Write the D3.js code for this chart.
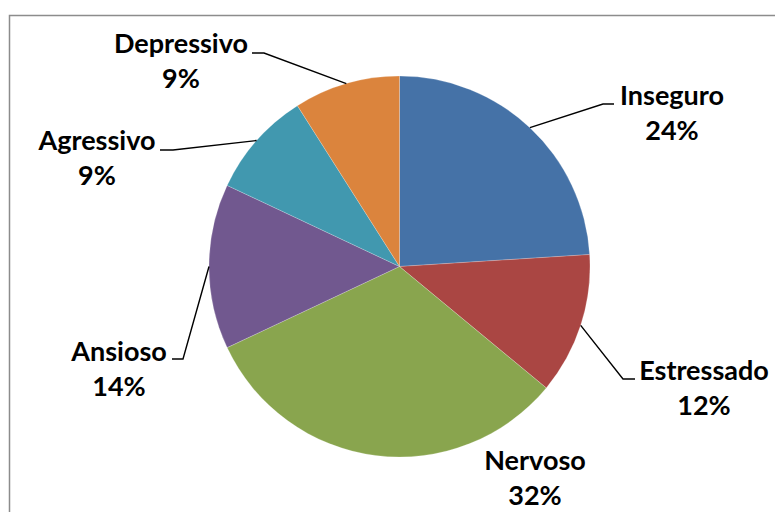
<!DOCTYPE html>
<html>
<head>
<meta charset="utf-8">
<script src="https://cdn.jsdelivr.net/npm/d3@7"></script>
<style>
  html, body { margin: 0; padding: 0; background: #fff; }
  svg { display: block; }
  .lbl { font-family: Lato, "Open Sans", sans-serif; font-weight: 700; font-size: 27px; fill: #000; }
</style>
</head>
<body>
<svg id="chart" width="775" height="512"></svg>
<script>
// Emotional state distribution (percent)
const categories = ["Inseguro", "Estressado", "Nervoso", "Ansioso", "Agressivo", "Depressivo"];
const values = [24, 12, 32, 14, 9, 9];
const colors = ["#4572A7", "#AA4643", "#89A54E", "#71588F", "#4198AF", "#DB843D"];

// Label placement: text centre, first baseline, and leader elbow (null = no leader)
const labelLayout = [
  { x: 672, y: 105, elbow: [603, 104], end: [614, 104] },
  { x: 704, y: 380, elbow: [623, 379], end: [635, 379] },
  { x: 535, y: 470, elbow: null },
  { x: 119, y: 361, elbow: [183, 359], end: [172, 359] },
  { x: 97,  y: 150, elbow: [173, 150], end: [160, 150] },
  { x: 181, y: 53,  elbow: [264, 53],  end: [252, 53] }
];

const svg = d3.select("#chart");
const width = 775, height = 512;
const cx = 399.5, cy = 266.5, r = 190.5;

// Chart area frame
svg.append("rect")
  .attr("x", 9.5).attr("y", 15.5)
  .attr("width", width + 10).attr("height", height + 10)
  .attr("fill", "#fff")
  .attr("stroke", "#8c8c8c")
  .attr("stroke-width", 1.5);

const data = categories.map((c, i) => ({ name: c, value: values[i], color: colors[i], layout: labelLayout[i] }));

const pie = d3.pie().sort(null).value(d => d.value);
const arcs = pie(data);
const arc = d3.arc().innerRadius(0).outerRadius(r);

const g = svg.append("g").attr("transform", `translate(${cx},${cy})`);

g.selectAll("path.slice")
  .data(arcs)
  .join("path")
  .attr("class", "slice")
  .attr("d", arc)
  .attr("fill", d => d.data.color)
  .attr("stroke", "rgba(255,255,255,0.35)")
  .attr("stroke-width", 0.6);

// Leader lines from slice mid-angle on the rim to the label
arcs.forEach(d => {
  const L = d.data.layout;
  if (!L.elbow) return;
  const mid = (d.startAngle + d.endAngle) / 2;
  const sx = cx + r * Math.sin(mid);
  const sy = cy - r * Math.cos(mid);
  svg.append("polyline")
    .attr("points", [[sx, sy], L.elbow, L.end].map(p => p.join(",")).join(" "))
    .attr("fill", "none")
    .attr("stroke", "#000")
    .attr("stroke-width", 1.4);
});

// Labels: category name and percentage
const total = d3.sum(values);
arcs.forEach(d => {
  const L = d.data.layout;
  const t = svg.append("text").attr("class", "lbl").attr("text-anchor", "middle");
  t.append("tspan").attr("x", L.x).attr("y", L.y).text(d.data.name);
  t.append("tspan").attr("x", L.x).attr("y", L.y + 35)
    .text(Math.round(d.data.value / total * 100) + "%");
});
</script>
</body>
</html>
